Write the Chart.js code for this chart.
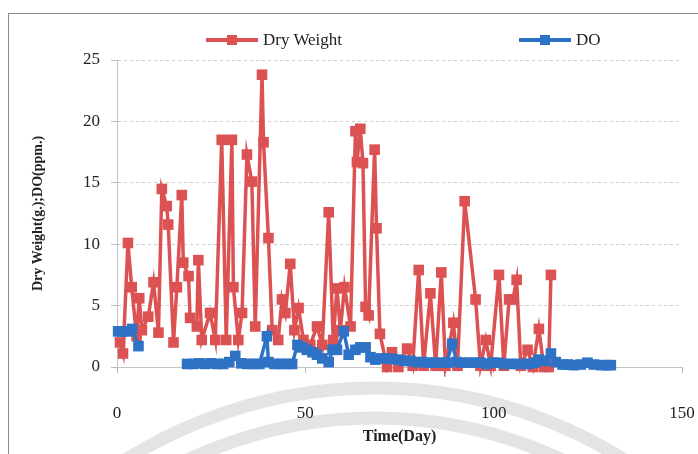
<!DOCTYPE html>
<html>
<head>
<meta charset="utf-8">
<script src="https://cdn.jsdelivr.net/npm/chart.js@4/dist/chart.umd.min.js"></script>
<style>
  html, body { margin: 0; padding: 0; background: #fff; }
  #wrap { position: relative; width: 698px; height: 454px; overflow: hidden; }
  #frame { position: absolute; left: 8px; top: 13px; width: 720px; height: 480px;
           border-left: 1px solid #8c8c8c; border-top: 1px solid #8c8c8c; }
  #mon-graphique { position: absolute; left: 0; top: 0; }
  .leg { position: absolute; top: 28px; height: 24px; font: 17px "Liberation Serif", serif; color: #222; }
  .leg .ln { position: absolute; top: 10px; height: 4px; width: 52px; left: 0; }
  .leg .sq { position: absolute; top: 7px; width: 10px; height: 10px; left: 21px; }
  .leg .tx { position: absolute; left: 57px; top: 2px; white-space: nowrap; }
</style>
</head>
<body>
<div id="wrap">
  <div id="frame"></div>
  <canvas id="mon-graphique" width="698" height="454"></canvas>
  <div id="legende"></div>
</div>
<script>
// Dry Weight (g.) : jour, valeur
const dwDays = [0.8,1.6,2.9,3.9,5.2,5.9,6.6,8.3,9.7,11.0,
  11.9,13.2,13.6,15.0,15.9,17.2,17.6,19.0,19.4,21.2,
  21.6,22.5,24.7,26.1,27.8,29.0,30.5,30.9,32.2,33.2,
  34.5,35.8,36.7,38.5,38.9,40.2,41.2,42.8,43.8,44.7,
  46.0,47.1,48.2,49.5,51.3,53.1,54.5,56.2,57.4,58.4,
  59.3,60.4,62.0,63.3,63.7,64.6,65.3,66.0,66.8,68.4,
  68.9,69.8,71.7,73.0,74.7,77.0,78.5,80.1,81.4,83.2,
  84.6,86.1,87.2,89.3,90.4,92.3,95.2,96.5,97.9,99.2,
  101.4,102.7,104.1,105.1,106.1,107.2,109.0,110.4,112.0,113.3,
  114.6,115.2];
const dwValues = [2.0,1.1,10.1,6.5,2.5,5.6,3.0,4.1,6.9,2.8,
  14.5,13.1,11.6,2.0,6.5,14.0,8.5,7.4,4.0,3.3,
  8.7,2.2,4.4,2.2,18.5,2.2,18.5,6.5,2.2,4.4,
  17.3,15.1,3.3,23.8,18.3,10.5,3.0,2.2,5.5,4.4,
  8.4,3.0,4.8,2.2,1.8,3.3,1.8,12.6,2.2,6.4,
  3.0,6.5,3.3,19.2,16.7,19.4,16.6,4.9,4.2,17.7,
  11.3,2.7,0,1.2,0,1.5,0.1,7.9,0.1,6.0,
  0.1,7.7,0.1,3.6,0.1,13.5,5.5,0.1,2.2,0.1,
  7.5,0.1,5.5,5.5,7.1,0.1,1.4,0,3.1,0,
  0,7.5];

// DO (ppm.) : jour, valeur (null = pas de mesure)
const doDays = [0.3,1.3,2.7,4.0,5.7,12,
  18.6,20.2,21.8,23.4,25.0,26.6,28.2,29.8,31.4,33.0,
  34.6,36.2,37.8,39.8,40.2,41.8,43.4,44.9,46.5,47.9,
  49.2,50.4,51.9,53.1,54.5,56.2,57.2,58.4,60.2,61.5,
  63.3,64.6,66.0,67.3,68.6,70.2,71.7,73.1,74.7,76.3,
  77.9,79.5,81.1,82.7,84.3,85.9,87.5,89.0,90.2,91.8,
  93.4,95.0,96.5,98.1,99.7,101.3,102.9,104.5,106.1,107.7,
  109.3,110.9,112.0,113.6,115.2,116.5,118.3,119.7,121.3,123.1,
  124.9,126.6,128.5,130.1,131.1];
const doValues = [2.9,2.9,2.9,3.1,1.7,null,
  0.25,0.25,0.3,0.25,0.3,0.25,0.25,0.4,0.9,0.3,
  0.25,0.25,0.25,2.5,0.4,0.25,0.25,0.25,0.25,1.8,
  1.6,1.4,1.2,1.0,0.7,0.4,1.4,1.4,2.9,1.0,
  1.4,1.6,1.6,0.8,0.6,0.7,0.7,0.65,0.6,0.5,
  0.5,0.4,0.4,0.35,0.35,0.35,0.35,1.9,0.4,0.35,
  0.35,0.35,0.35,0.25,0.35,0.35,0.25,0.25,0.25,0.25,
  0.25,0.35,0.6,0.5,1.1,0.4,0.2,0.2,0.15,0.2,
  0.35,0.2,0.15,0.15,0.15];

const xTicks = [0, 50, 100, 150];
const yTicks = [0, 5, 10, 15, 20, 25];

const rouge = "#dc5252";
const bleu = "#2e72c6";
const serif = "'Liberation Serif', 'Times New Roman', serif";

const datasets = [
  {
    label: "Dry Weight",
    data: dwDays.map((x, i) => ({ x: x, y: dwValues[i] })),
    borderColor: rouge, backgroundColor: rouge,
    order: 1
  },
  {
    label: "DO",
    data: doDays.map((x, i) => ({ x: x, y: doValues[i] })),
    borderColor: bleu, backgroundColor: bleu,
    order: 0
  }
];
datasets.forEach(d => {
  d.showLine = true;
  d.borderWidth = 3.5;
  d.pointStyle = "rect";
  d.pointRadius = 7.5;
  d.pointHoverRadius = 7.5;
  d.pointBorderWidth = 0;
  d.spanGaps = false;
  d.clip = 10;
});

// arcs gris du filigrane (scan)
const filigrane = {
  id: "filigrane",
  beforeDraw(chart) {
    const c = chart.ctx;
    c.save();
    c.strokeStyle = "rgba(205,205,205,0.55)";
    c.lineWidth = 13;
    c.beginPath(); c.arc(375, 857, 469, Math.PI, 2 * Math.PI); c.stroke();
    c.beginPath(); c.arc(375, 857, 439, Math.PI, 2 * Math.PI); c.stroke();
    c.restore();
  }
};

let configurations = {
  type: "scatter",
  data: { datasets: datasets },
  options: {
    responsive: false,
    animation: false,
    layout: { padding: { left: 0, top: 60, right: 16, bottom: 0 } },
    plugins: { legend: { display: false }, tooltip: { enabled: false } },
    scales: {
      x: {
        type: "linear", min: 0, max: 150,
        afterBuildTicks: (s) => { s.ticks = xTicks.map(v => ({ value: v })); },
        afterFit: (s) => { s.height = 87; s.paddingLeft = 0; s.paddingRight = 0; },
        ticks: { font: { family: serif, size: 17 }, color: "#222", padding: 30 },
        grid: { drawOnChartArea: false, tickLength: 6, color: "#bdbdbd" },
        border: { color: "#c4c4c4" },
        title: { display: true, text: "Time(Day)", color: "#222",
                 font: { family: serif, size: 16, weight: "bold" }, padding: { top: 0, bottom: 8 } }
      },
      y: {
        type: "linear", min: 0, max: 25,
        afterBuildTicks: (s) => { s.ticks = yTicks.map(v => ({ value: v })); },
        afterFit: (s) => { s.width = 117; s.paddingTop = 0; s.paddingBottom = 0; },
        ticks: { font: { family: serif, size: 17 }, color: "#222", padding: 11 },
        grid: { color: "#cdcdcd", tickLength: 6, tickColor: "#bdbdbd", tickBorderDash: [] },
        border: { color: "#c4c4c4", dash: [3, 3] },
        title: { display: true, text: "Dry Weight(g.);DO(ppm.)", color: "#222",
                 font: { family: serif, size: 14, weight: "bold" }, padding: { top: 30, bottom: 0 } }
      }
    }
  },
  plugins: [filigrane]
};

const contexte = document.querySelector("#mon-graphique").getContext("2d");
new Chart(contexte, configurations);

// légende HTML (les deux éléments sont très espacés dans l'original)
const legendePos = [206, 519];
const legende = document.querySelector("#legende");
datasets.forEach((d, i) => {
  const el = document.createElement("div");
  el.className = "leg";
  el.style.left = legendePos[i] + "px";
  el.innerHTML = '<div class="ln" style="background:' + d.borderColor + '"></div>' +
    '<div class="sq" style="background:' + d.borderColor + '"></div>' +
    '<div class="tx">' + d.label + '</div>';
  legende.appendChild(el);
});
</script>
</body>
</html>
